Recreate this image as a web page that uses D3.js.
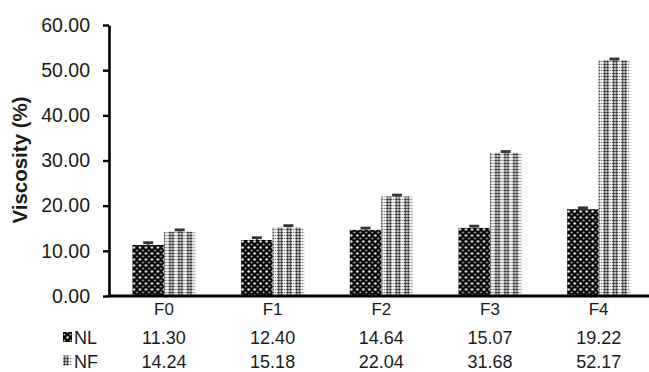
<!DOCTYPE html>
<html>
<head>
<meta charset="utf-8">
<script src="https://cdn.jsdelivr.net/npm/d3@7"></script>
<style>
  html, body { margin: 0; padding: 0; background: #fff; }
  svg { display: block; }
  text { font-family: "Liberation Sans", Arial, sans-serif; fill: #1a1a1a; }
</style>
</head>
<body>
<svg id="chart" width="649" height="372"></svg>
<script>
const categories = ["F0", "F1", "F2", "F3", "F4"];
const seriesNames = ["NL", "NF"];
const nlValues = [11.30, 12.40, 14.64, 15.07, 19.22];
const nfValues = [14.24, 15.18, 22.04, 31.68, 52.17];
const nlErrors = [0.5, 0.5, 0.4, 0.4, 0.3];
const nfErrors = [0.4, 0.4, 0.3, 0.3, 0.3];
const yTicks = [0, 10, 20, 30, 40, 50, 60];
const yTitle = "Viscosity (%)";

const svg = d3.select("#chart");

// patterns
const defs = svg.append("defs");
const pNL = defs.append("pattern").attr("id", "patNL")
  .attr("patternUnits", "userSpaceOnUse").attr("width", 6).attr("height", 6);
pNL.append("rect").attr("width", 6).attr("height", 6).attr("fill", "#050505");
pNL.append("circle").attr("cx", 1.5).attr("cy", 1.5).attr("r", 1.25).attr("fill", "#f4f4f4");
pNL.append("circle").attr("cx", 4.5).attr("cy", 4.5).attr("r", 1.0).attr("fill", "#bdbdbd");

const pNF = defs.append("pattern").attr("id", "patNF")
  .attr("patternUnits", "userSpaceOnUse").attr("width", 9).attr("height", 3);
pNF.append("rect").attr("width", 9).attr("height", 3).attr("fill", "#fafafa");
[1.5, 4.5].forEach(cx => pNF.append("circle").attr("cx", cx).attr("cy", 1.5).attr("r", 1.2).attr("fill", "#1e1e1e"));
pNF.append("circle").attr("cx", 7.5).attr("cy", 1.5).attr("r", 0.8).attr("fill", "#777");

const fills = { NL: "url(#patNL)", NF: "url(#patNF)" };

const y = d3.scaleLinear().domain([0, 60]).range([296, 25]);
const x0 = d3.scaleBand().domain(categories).range([109.6, 653]).paddingInner(0).paddingOuter(0);
const barW = 31.5;
const x1 = d3.scaleBand().domain(seriesNames).range([0, 2 * barW]);
const groupOffset = (x0.bandwidth() - 2 * barW) / 2;

const data = categories.map((c, i) => ({
  cat: c,
  vals: [
    { s: "NL", v: nlValues[i], e: nlErrors[i] },
    { s: "NF", v: nfValues[i], e: nfErrors[i] }
  ]
}));

// bars
const g = svg.append("g");
const groups = g.selectAll("g.grp").data(data).join("g")
  .attr("transform", d => `translate(${x0(d.cat) + groupOffset},0)`);
groups.selectAll("rect").data(d => d.vals).join("rect")
  .attr("x", d => x1(d.s))
  .attr("y", d => y(d.v))
  .attr("width", x1.bandwidth())
  .attr("height", d => y(0) - y(d.v))
  .attr("fill", d => fills[d.s]);

// error bars
groups.selectAll("line.err").data(d => d.vals).join("line")
  .attr("x1", d => x1(d.s) + x1.bandwidth() / 2)
  .attr("x2", d => x1(d.s) + x1.bandwidth() / 2)
  .attr("y1", d => y(d.v))
  .attr("y2", d => y(d.v + d.e))
  .attr("stroke", "#333").attr("stroke-width", 1.5);
groups.selectAll("line.cap").data(d => d.vals).join("line")
  .attr("x1", d => x1(d.s) + x1.bandwidth() / 2 - 5)
  .attr("x2", d => x1(d.s) + x1.bandwidth() / 2 + 5)
  .attr("y1", d => y(d.v + d.e))
  .attr("y2", d => y(d.v + d.e))
  .attr("stroke", "#333").attr("stroke-width", 2.8);

// y axis
const yAxis = d3.axisLeft(y).tickValues(yTicks).tickFormat(d3.format(".2f"))
  .tickSize(6).tickSizeOuter(0).tickPadding(13);
const ga = svg.append("g").attr("transform", "translate(109,0)").call(yAxis);
ga.select(".domain").attr("stroke", "#000").attr("stroke-width", 2.6);
ga.selectAll(".tick line").attr("stroke", "#000").attr("stroke-width", 2.4);
ga.selectAll(".tick text").style("font-family", "'Liberation Sans', Arial, sans-serif")
  .style("font-size", "19.5px").attr("fill", "#1a1a1a");

// x axis
const xAxis = d3.axisBottom(x0).tickSize(0).tickSizeOuter(0).tickFormat("");
const gx = svg.append("g").attr("transform", "translate(0,296)").call(xAxis);
gx.select(".domain").attr("d", `M107.5,0H649`).attr("stroke", "#000").attr("stroke-width", 3.2);

// category labels
svg.append("g").selectAll("text").data(categories).join("text")
  .attr("x", d => x0(d) + x0.bandwidth() / 2)
  .attr("y", 315)
  .attr("text-anchor", "middle")
  .style("font-size", "17px")
  .text(d => d);

// data table
const rows = [
  { s: "NL", vals: nlValues, base: 344 },
  { s: "NF", vals: nfValues, base: 367.5 }
];
rows.forEach(r => {
  svg.append("g").selectAll("text").data(r.vals).join("text")
    .attr("x", (d, i) => x0(categories[i]) + x0.bandwidth() / 2)
    .attr("y", r.base)
    .attr("text-anchor", "middle")
    .style("font-size", "18px")
    .text(d => d.toFixed(2));
  svg.append("rect").attr("x", 63).attr("y", r.base - 12).attr("width", 9).attr("height", 10)
    .attr("fill", fills[r.s]);
  svg.append("text").attr("x", 74).attr("y", r.base)
    .style("font-size", "18px").text(r.s);
});

// y title
svg.append("text")
  .attr("transform", "translate(26.5,160) rotate(-90)")
  .attr("text-anchor", "middle")
  .style("font-size", "20.5px").style("font-weight", "bold")
  .text(yTitle);
</script>
</body>
</html>
